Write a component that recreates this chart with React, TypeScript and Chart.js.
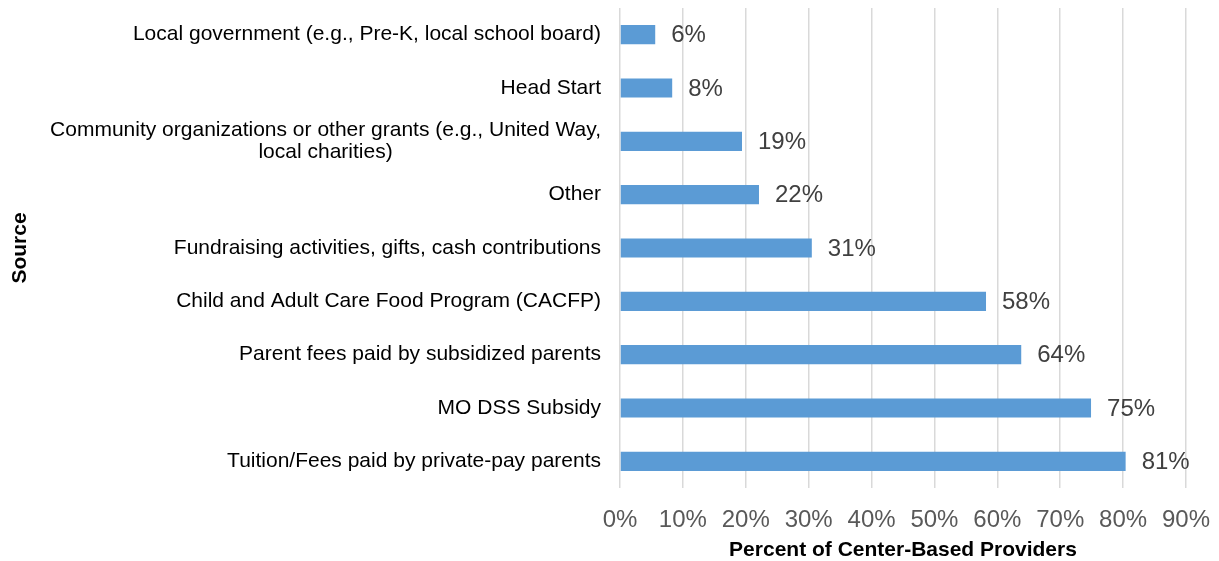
import React, { useEffect, useRef } from "react";
import { Chart, registerables } from "chart.js";

Chart.register(...registerables);

const categories: (string | string[])[] = [
  "Local government (e.g., Pre-K, local school board)",
  "Head Start",
  ["Community organizations or other grants (e.g., United Way,", "local charities)"],
  "Other",
  "Fundraising activities, gifts, cash contributions",
  "Child and Adult Care Food Program (CACFP)",
  "Parent fees paid by subsidized parents",
  "MO DSS Subsidy",
  "Tuition/Fees paid by private-pay parents",
];
const values = [5.6, 8.3, 19.4, 22.1, 30.5, 58.2, 63.8, 74.9, 80.4];
const valueLabels = ["6%", "8%", "19%", "22%", "31%", "58%", "64%", "75%", "81%"];
const xMax = 90;
const xStep = 10;
const xTitle = "Percent of Center-Based Providers";
const yTitle = "Source";

const FONT = "'Liberation Sans', Arial, sans-serif";

const labelPlugin = {
  id: "customLabels",
  afterDraw(chart: any) {
    const ctx = chart.ctx;
    const y = chart.scales.y;
    const area = chart.chartArea;
    ctx.save();
    // category labels
    ctx.font = `21px ${FONT}`;
    ctx.fillStyle = "#000000";
    ctx.textBaseline = "middle";
    const rightEdge = area.left - 19;
    const lineH = 22;
    categories.forEach((lab, i) => {
      const cy = y.getPixelForValue(i);
      const lines = Array.isArray(lab) ? lab : [lab];
      const maxW = Math.max(...lines.map((l) => ctx.measureText(l).width));
      const startY = cy - ((lines.length - 1) * lineH) / 2;
      lines.forEach((l, j) => {
        if (lines.length > 1) {
          ctx.textAlign = "center";
          ctx.fillText(l, rightEdge - maxW / 2, startY + j * lineH);
        } else {
          ctx.textAlign = "right";
          ctx.fillText(l, rightEdge, startY + j * lineH);
        }
      });
    });
    // value labels
    ctx.font = `24px ${FONT}`;
    ctx.fillStyle = "#404040";
    ctx.textAlign = "left";
    const meta = chart.getDatasetMeta(0);
    meta.data.forEach((bar: any, i: number) => {
      ctx.fillText(valueLabels[i], bar.x + 16, bar.y + 1);
    });
    // y title
    ctx.font = `bold 21px ${FONT}`;
    ctx.fillStyle = "#000000";
    ctx.textAlign = "center";
    ctx.translate(20, (area.top + area.bottom) / 2);
    ctx.rotate(-Math.PI / 2);
    ctx.fillText(yTitle, 0, 0);
    ctx.restore();
  },
};

export default function App() {
  const ref = useRef<HTMLCanvasElement>(null);
  useEffect(() => {
    if (!ref.current) return;
    const chart = new Chart(ref.current, {
      type: "bar",
      data: {
        labels: categories.map((c) => (Array.isArray(c) ? c.join(" ") : c)),
        datasets: [
          {
            data: values,
            backgroundColor: "#5B9BD5",
            barPercentage: 0.36,
            categoryPercentage: 1,
          },
        ],
      },
      options: {
        indexAxis: "y",
        animation: false,
        responsive: false,
        maintainAspectRatio: false,
        layout: { padding: { left: 620, top: 8, right: 33, bottom: 0 } },
        plugins: { legend: { display: false }, tooltip: { enabled: false } },
        scales: {
          y: {
            display: false,
            offset: true,
          },
          x: {
            min: 0,
            max: xMax,
            border: { display: false },
            grid: { color: "#d9d9d9", lineWidth: 1.5, drawTicks: false },
            afterFit: (scale: any) => {
              scale.height = 73;
              scale.paddingLeft = 0;
              scale.paddingRight = 0;
            },
            ticks: {
              stepSize: xStep,
              padding: 18,
              maxRotation: 0,
              color: "#595959",
              font: { size: 24, family: FONT },
              callback: (v: any) => v + "%",
            },
            title: {
              display: true,
              text: xTitle,
              color: "#000000",
              font: { size: 21, weight: "bold", family: FONT, lineHeight: 1 },
              padding: { top: 7, bottom: 0 },
            },
          },
        },
      },
      plugins: [labelPlugin],
    });
    return () => chart.destroy();
  }, []);
  return (
    <div style={{ position: "fixed", left: 0, top: 0, width: 1219, height: 561, background: "#fff" }}>
      <canvas ref={ref} width={1219} height={561} />
    </div>
  );
}
